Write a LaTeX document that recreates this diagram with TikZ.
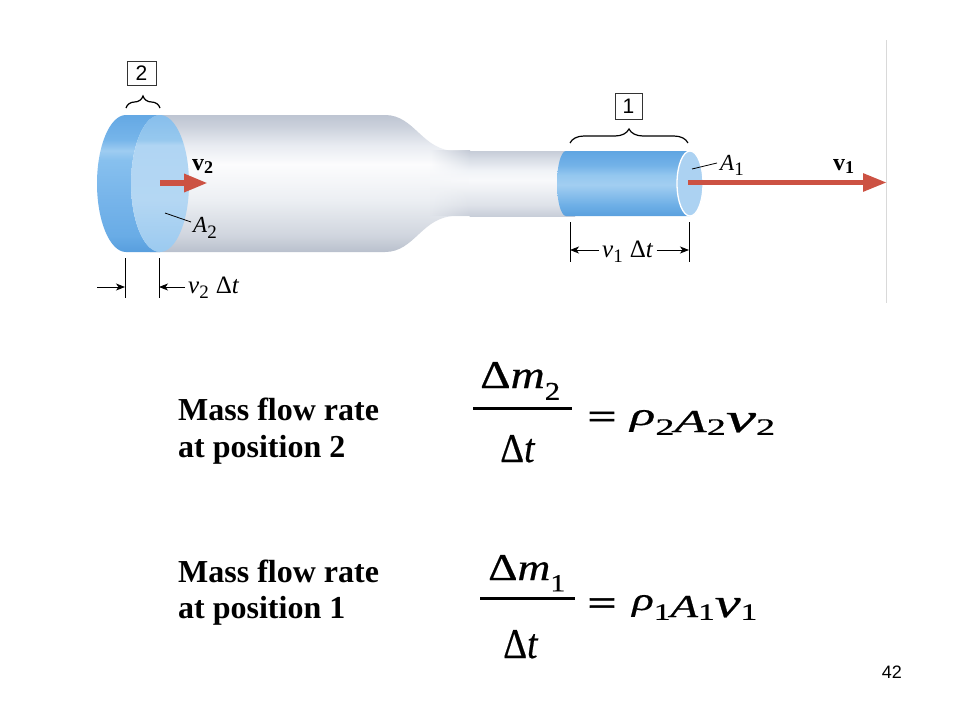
\documentclass[tikz,border=0pt]{standalone}
\usepackage{graphicx}
\usepackage{fontspec}
\setmainfont{Liberation Serif}
\setsansfont{Liberation Sans}
\newfontfamily\eqfont[FakeBold=0.5]{Liberation Serif}
\newfontfamily\eqsans[FakeBold=1.5]{Liberation Sans}
\usetikzlibrary{arrows.meta,decorations.pathreplacing,fadings}
\newcommand{\mysub}[3]{\lower#2\hbox{\fontsize{#1}{#1}\selectfont #3}}
\tikzfading[name=fadeinright, left color=transparent!100, right color=transparent!0]
% colours
\definecolor{flowred}{RGB}{204,82,67}
\definecolor{bA}{RGB}{185,192,205}
\definecolor{bB}{RGB}{208,213,222}
\definecolor{bC}{RGB}{236,239,243}
\definecolor{bD}{RGB}{252,252,253}
\definecolor{bE}{RGB}{232,235,241}
\definecolor{bF}{RGB}{202,208,219}
\definecolor{bG}{RGB}{190,197,210}
\pgfdeclareverticalshading{bodyshade}{100bp}{color(0bp)=(bA); color(25bp)=(bA); color(31bp)=(bB); color(44bp)=(bC); color(57bp)=(bD); color(64bp)=(bE); color(71bp)=(bF); color(75bp)=(bG); color(100bp)=(bG)}
\definecolor{nA}{RGB}{200,206,217}
\definecolor{nB}{RGB}{222,226,233}
\definecolor{nC}{RGB}{248,249,251}
\definecolor{nD}{RGB}{240,243,247}
\definecolor{nE}{RGB}{214,219,228}
\definecolor{nF}{RGB}{198,204,215}
\pgfdeclareverticalshading{neckshade}{100bp}{color(0bp)=(nA); color(25bp)=(nA); color(33.5bp)=(nB); color(52.7bp)=(nC); color(60bp)=(nD); color(69.5bp)=(nE); color(75bp)=(nF); color(100bp)=(nF)}
\definecolor{lA}{RGB}{88,158,222}
\definecolor{lB}{RGB}{105,172,230}
\definecolor{lC}{RGB}{118,180,234}
\definecolor{lD}{RGB}{135,192,238}
\definecolor{lE}{RGB}{158,204,241}
\definecolor{lF}{RGB}{118,181,234}
\definecolor{lG}{RGB}{100,168,228}
\pgfdeclareverticalshading{leftblue}{100bp}{color(0bp)=(lA); color(25bp)=(lA); color(31bp)=(lB); color(44bp)=(lC); color(58.5bp)=(lD); color(62bp)=(lE); color(66bp)=(lF); color(75bp)=(lG); color(100bp)=(lG)}
\definecolor{fA}{RGB}{155,202,240}
\definecolor{fB}{RGB}{180,215,243}
\definecolor{fC}{RGB}{176,213,243}
\definecolor{fD}{RGB}{150,200,238}
\definecolor{fE}{RGB}{135,190,236}
\pgfdeclareverticalshading{faceshade}{100bp}{color(0bp)=(fA); color(25bp)=(fA); color(44bp)=(fB); color(64bp)=(fC); color(66bp)=(fD); color(75bp)=(fE); color(100bp)=(fE)}
\definecolor{rA}{RGB}{90,160,222}
\definecolor{rB}{RGB}{110,175,230}
\definecolor{rC}{RGB}{162,206,241}
\definecolor{rD}{RGB}{148,199,239}
\definecolor{rE}{RGB}{115,178,232}
\definecolor{rF}{RGB}{95,165,226}
\pgfdeclareverticalshading{rightblue}{100bp}{color(0bp)=(rA); color(25bp)=(rA); color(33.5bp)=(rB); color(49bp)=(rC); color(56.5bp)=(rD); color(64bp)=(rE); color(75bp)=(rF); color(100bp)=(rF)}
\definecolor{endface}{RGB}{172,210,242}
\tikzset{
  flow/.style={draw=flowred, line width=6pt, -{Triangle[length=24pt,width=17pt]}},
  dimline/.style={draw=black, line width=0.9pt},
  dimarr/.style={draw=black, line width=0.9pt, -{Stealth[length=9pt,width=7pt,inset=2.5pt]}},
  leader/.style={draw=black, line width=0.8pt},
  bracestyle/.style={draw=black, line width=1.2pt, decorate},
  numbox/.style={draw=black!80, line width=0.9pt, inner sep=0pt, font=\sffamily\fontsize{21}{21}\selectfont},
  plabel/.style={inner sep=0pt, anchor=base west},
  masstext/.style={inner sep=0pt, anchor=base west, font=\fontsize{32}{38}\selectfont\bfseries},
  eqpart/.style={inner sep=0pt, anchor=base west, font=\eqfont},
  eqsign/.style={inner sep=0pt, anchor=base, font=\eqsans\fontsize{34}{34}\selectfont},
}
\begin{document}
\begin{tikzpicture}[x=1pt,y=-1pt]
\useasboundingbox (0,0) rectangle (960,720);
\fill[white] (0,0) rectangle (960,720);

% frame line of the photo
\draw[black!15, line width=1pt] (886.5,40) -- (886.5,303);

% pipe body (wide part + taper)
\shade[shading=bodyshade] (150,115) -- (385,115) .. controls (415,115) and (422,151) .. (456,151)
   -- (575,151) -- (575,216) -- (456,216) .. controls (422,216) and (415,252) .. (385,252) -- (150,252) -- cycle;
% narrow neck, blended into the taper
\shade[shading=neckshade, path fading=fadeinright] (430,151) rectangle (470,216);
\shade[shading=neckshade] (469.5,151) rectangle (575,216);

% left blue volume (position 2)
\shade[shading=leftblue] (126,115) arc[start angle=270, end angle=90, x radius=29, y radius=68.5]
   -- (160,252) arc[start angle=90, end angle=270, x radius=29, y radius=68.5] -- cycle;
\shade[shading=faceshade] (160,183.5) ellipse[x radius=29, y radius=68.5];

% right blue volume (position 1)
\shade[shading=rightblue] (566,151) arc[start angle=270, end angle=90, x radius=9, y radius=32.5]
   -- (690,216) -- (690,151) -- cycle;
\filldraw[fill=endface, draw=white, line width=1.3pt] (690,183.5) ellipse[x radius=13, y radius=32.5];

% velocity arrows
\coordinate (v2s) at (160,183);
\coordinate (v2e) at (208,183);
\draw[flow] (v2s) -- (v2e);
\coordinate (v1s) at (688,182.5);
\coordinate (v1e) at (887,182.5);
\draw[flow, line width=5.5pt] (v1s) -- (v1e);

% labels on the pipe
\node[plabel, font=\fontsize{24}{24}\selectfont\bfseries] (lv2) at (192,170) {v\mysub{18}{3pt}{\bfseries 2}};
\node[plabel, font=\fontsize{24}{24}\selectfont\bfseries] (lv1) at (833,170) {v\mysub{18}{3pt}{\bfseries 1}};
\node[plabel, font=\fontsize{23}{23}\selectfont] (la2) at (193,232) {\textit{A}\mysub{19}{6pt}{2}};
\node[plabel, font=\fontsize{23}{23}\selectfont] (la1) at (720,170) {\textit{A}\mysub{19}{5pt}{1}};
\coordinate (a2p) at (165,213);
\coordinate (a2q) at (191,222);
\draw[leader] (a2p) -- (a2q);
\coordinate (a1p) at (692,169);
\coordinate (a1q) at (717,163);
\draw[leader] (a1p) -- (a1q);

% braces and numbered boxes
\coordinate (b2l) at (126,108);
\coordinate (b2r) at (160,108);
\draw[bracestyle, decoration={brace, amplitude=12pt}] (b2l) -- (b2r);
\node[numbox, minimum width=29pt, minimum height=24pt] (box2) at (141.5,73) {2};
\coordinate (b1l) at (570,143);
\coordinate (b1r) at (688,143);
\draw[bracestyle, decoration={brace, amplitude=14pt}] (b1l) -- (b1r);
\node[numbox, minimum width=27pt, minimum height=26pt] (box1) at (628.5,106) {1};

% dimension v2 dt
\coordinate (t2at) at (125,258); \coordinate (t2ab) at (125,298);
\coordinate (t2bt) at (159,258); \coordinate (t2bb) at (159,298);
\draw[dimline] (t2at) -- (t2ab);
\draw[dimline] (t2bt) -- (t2bb);
\coordinate (d2s) at (97,287);
\coordinate (d2l) at (125,287);
\coordinate (d2r) at (159,287);
\draw[dimarr] (d2s) -- (d2l);
\node[plabel, inner xsep=3pt, font=\fontsize{25}{25}\selectfont] (lbl2) at (185,293) {\textit{v}\mysub{19}{5pt}{2}\hspace{7pt}Δ\textit{t}};
\draw[dimarr] (lbl2.west |- d2r) -- (d2r);

% dimension v1 dt
\coordinate (t1at) at (570,222); \coordinate (t1ab) at (570,262);
\coordinate (t1bt) at (689,222); \coordinate (t1bb) at (689,262);
\draw[dimline] (t1at) -- (t1ab);
\draw[dimline] (t1bt) -- (t1bb);
\coordinate (d1l) at (570,250);
\coordinate (d1r) at (689,250);
\node[plabel, inner xsep=3pt, font=\fontsize{25}{25}\selectfont] (lbl1) at (599,257) {\textit{v}\mysub{19}{5pt}{1}\hspace{7pt}Δ\textit{t}};
\draw[dimarr] (lbl1.west |- d1l) -- (d1l);
\draw[dimarr] (lbl1.east |- d1r) -- (d1r);

% text lines
\node[masstext] (m2a) at (178,420) {Mass flow rate};
\node[masstext] (m2b) at (178,457) {at position 2};
\node[masstext] (m1a) at (178,582) {Mass flow rate};
\node[masstext] (m1b) at (178,618) {at position 1};

% equation for position 2
\node[eqpart] (n2) at (480,388) {\resizebox{80pt}{26pt}{\fontsize{40}{40}\selectfont Δ\textit{m}\mysub{26}{12pt}{2}}};
\coordinate (bar2l) at (473,408);
\coordinate (bar2r) at (572,408);
\draw[line width=3pt] (bar2l) -- (bar2r);
\node[eqpart] (d2) at (500,462) {\resizebox{35pt}{27pt}{\fontsize{40}{40}\selectfont Δ\textit{t}}};
\node[eqsign] (q2) at (602,426) {\scalebox{1.45}[0.85]{=}};
\node[eqpart] (r2) at (630,432) {\resizebox{145pt}{22pt}{\fontsize{34}{34}\selectfont\raisebox{0.22em}{\textit{ρ}}\mysub{25}{3pt}{2}\textit{A}\mysub{25}{3pt}{2}{\fontsize{44}{44}\selectfont\textit{v}}\mysub{25}{3pt}{2}}};

% equation for position 1
\node[eqpart] (n1) at (488,580) {\resizebox{77pt}{25pt}{\fontsize{40}{40}\selectfont Δ\textit{m}\mysub{26}{12pt}{1}}};
\coordinate (bar1l) at (480,598);
\coordinate (bar1r) at (575,598);
\draw[line width=3pt] (bar1l) -- (bar1r);
\node[eqpart] (d1) at (503,658) {\resizebox{35pt}{28pt}{\fontsize{40}{40}\selectfont Δ\textit{t}}};
\node[eqsign] (q1) at (602,612.5) {\scalebox{1.45}[0.85]{=}};
\node[eqpart] (r1) at (632,617) {\resizebox{125pt}{22pt}{\fontsize{34}{34}\selectfont\raisebox{0.22em}{\textit{ρ}}\mysub{25}{3pt}{1}\textit{A}\mysub{25}{3pt}{1}{\fontsize{44}{44}\selectfont\textit{v}}\mysub{25}{3pt}{1}}};

% page number
\node[inner sep=0pt, anchor=base east, font=\sffamily\fontsize{18}{18}\selectfont] (pg) at (902,678) {42};
\end{tikzpicture}
\end{document}
